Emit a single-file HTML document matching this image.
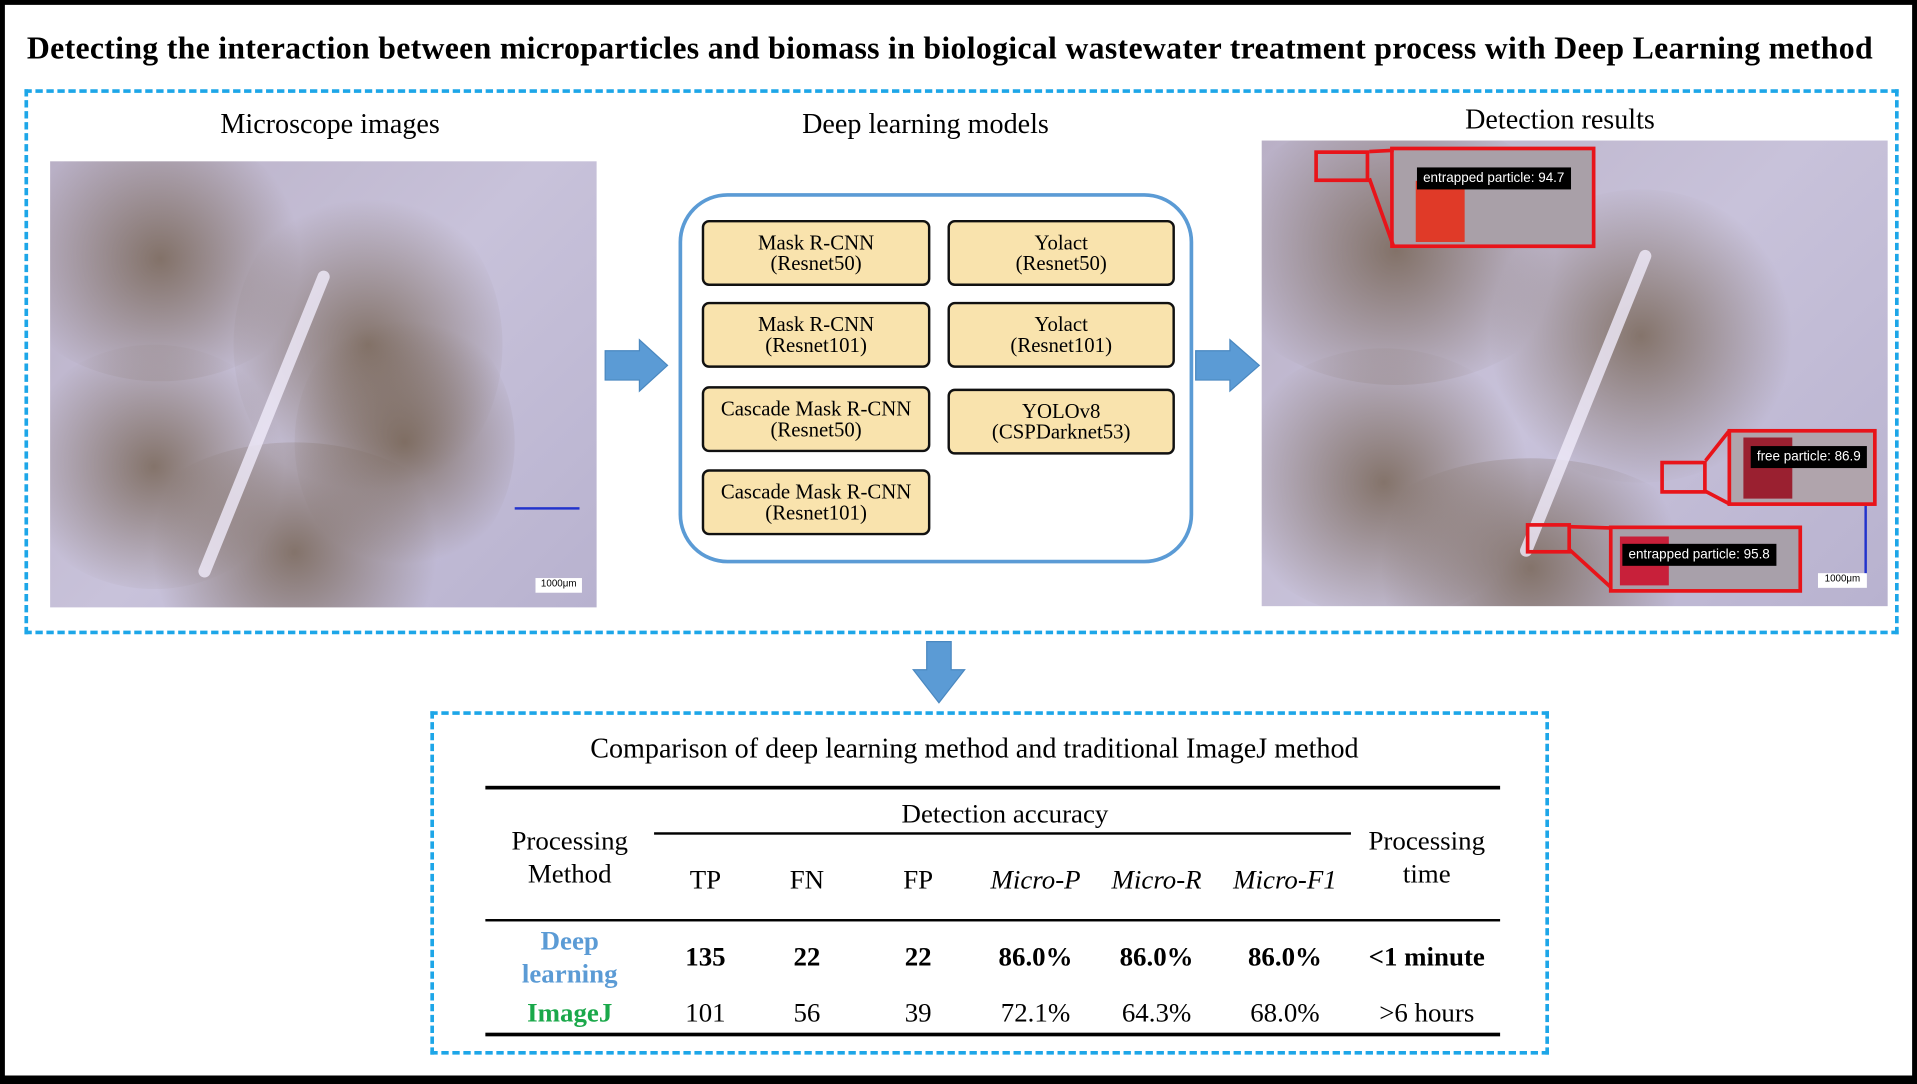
<!DOCTYPE html>
<html><head><meta charset="utf-8"><style>
*{margin:0;padding:0;box-sizing:border-box}
body{width:1917px;height:1084px;overflow:hidden;background:#fff}
#s{position:absolute;left:0;top:0;width:1568px;height:887px;transform:scale(1.22258,1.22210);transform-origin:0 0;font-family:"Liberation Serif",serif;color:#000}
.a{position:absolute}
.c{position:absolute;text-align:center;white-space:nowrap;transform:translateX(-50%)}
.mb{position:absolute;background:#f9e3ad;border:2px solid #111;border-radius:6px;text-align:center;font-size:17px;line-height:17px;padding-top:8px}
.img{background:linear-gradient(135deg,#b9b0c6,#c8c2da 50%,#b8b2cf);overflow:hidden}
.blob{position:absolute;border-radius:50%;background:radial-gradient(circle,rgba(110,90,70,.75),rgba(130,110,90,.0) 70%)}
.red{position:absolute;border:3px solid #e8141a}
.lab{position:absolute;background:#000;color:#fff;font-family:"Liberation Sans",sans-serif;font-size:11px;padding:3px 5px}
.hl{position:absolute;background:#000}
.t{position:absolute;text-align:center;transform:translateX(-50%);font-size:22px;white-space:nowrap}
</style></head><body>
<div id="s">
<div class="a" style="left:0;top:0;width:1568px;height:887px;border:4px solid #000;border-bottom:7px solid #000"></div>
<div class="a" style="left:22px;top:25px;font-size:26px;letter-spacing:0.25px;font-weight:bold;white-space:nowrap">Detecting the interaction between microparticles and biomass in biological wastewater treatment process with Deep Learning method</div>
<div class="a" style="left:20px;top:73px;width:1533px;height:446px;border:3px dashed #1da6e8"></div>
<div class="c" style="left:270px;top:89px;font-size:23px">Microscope images</div>
<div class="c" style="left:757px;top:89px;font-size:23px">Deep learning models</div>
<div class="c" style="left:1276px;top:85px;font-size:23px">Detection results</div>

<div class="a img" style="left:41px;top:132px;width:447px;height:365px">
<div class="blob" style="left:-40px;top:-20px;width:260px;height:200px"></div>
<div class="blob" style="left:150px;top:20px;width:220px;height:260px"></div>
<div class="blob" style="left:-30px;top:150px;width:230px;height:200px"></div>
<div class="blob" style="left:60px;top:230px;width:280px;height:180px"></div>
<div class="blob" style="left:200px;top:120px;width:180px;height:220px"></div>
<div class="a" style="left:170px;top:80px;width:10px;height:270px;background:rgba(240,235,250,.8);border-radius:5px;transform:rotate(22deg)"></div>
<div class="a" style="left:380px;top:283px;width:53px;height:2px;background:#2233cc"></div>
<div class="a" style="left:397px;top:341px;width:38px;height:12px;background:#fff;font-size:8px;font-family:'Liberation Sans';text-align:center">1000μm</div>
</div>

<svg class="a" style="left:490px;top:270px" width="60" height="60"><polygon points="5,17 33,17 33,8 56,29 33,50 33,41 5,41" fill="#5b9bd5" stroke="#4a88c0"/></svg>
<svg class="a" style="left:974px;top:270px" width="60" height="60"><polygon points="4,17 32,17 32,8 56,29 32,50 32,41 4,41" fill="#5b9bd5" stroke="#4a88c0"/></svg>

<div class="a" style="left:555px;top:158px;width:421px;height:303px;border:3px solid #5b9bd5;border-radius:40px"></div>
<div class="mb" style="left:574px;top:180px;width:187px;height:54px">Mask R-CNN<br>(Resnet50)</div>
<div class="mb" style="left:775px;top:180px;width:186px;height:54px">Yolact<br>(Resnet50)</div>
<div class="mb" style="left:574px;top:247px;width:187px;height:54px">Mask R-CNN<br>(Resnet101)</div>
<div class="mb" style="left:775px;top:247px;width:186px;height:54px">Yolact<br>(Resnet101)</div>
<div class="mb" style="left:574px;top:316px;width:187px;height:54px">Cascade Mask R-CNN<br>(Resnet50)</div>
<div class="mb" style="left:775px;top:318px;width:186px;height:54px">YOLOv8<br>(CSPDarknet53)</div>
<div class="mb" style="left:574px;top:384px;width:187px;height:54px">Cascade Mask R-CNN<br>(Resnet101)</div>

<div class="a img" style="left:1032px;top:115px;width:512px;height:381px">
<div class="blob" style="left:-40px;top:-20px;width:300px;height:220px"></div>
<div class="blob" style="left:180px;top:40px;width:260px;height:240px"></div>
<div class="blob" style="left:-30px;top:170px;width:260px;height:220px"></div>
<div class="blob" style="left:70px;top:260px;width:300px;height:180px"></div>
<div class="a" style="left:260px;top:80px;width:10px;height:270px;background:rgba(240,235,250,.8);border-radius:5px;transform:rotate(22deg)"></div>
<div class="a" style="left:493px;top:290px;width:2px;height:65px;background:#2233cc"></div>
<div class="a" style="left:455px;top:354px;width:40px;height:12px;background:#fff;font-size:8px;font-family:'Liberation Sans';text-align:center">1000μm</div>
</div>
<div class="red" style="left:1075px;top:123px;width:45px;height:26px"></div>
<div class="red" style="left:1137px;top:120px;width:168px;height:83px;background:#a9a0a8"><div class="a" style="left:18px;top:25px;width:40px;height:50px;background:#e03a28"></div><div class="lab" style="left:19px;top:14px">entrapped particle: 94.7</div></div>
<svg class="a" style="left:1118px;top:120px" width="25" height="90"><line x1="2" y1="4" x2="22" y2="3" stroke="#e8141a" stroke-width="3"/><line x1="2" y1="26" x2="22" y2="82" stroke="#e8141a" stroke-width="3"/></svg>
<div class="red" style="left:1358px;top:377px;width:38px;height:27px"></div>
<div class="red" style="left:1413px;top:351px;width:122px;height:63px;background:#b0a4ac"><div class="a" style="left:10px;top:4px;width:40px;height:50px;background:#9a2030"></div><div class="lab" style="left:16px;top:11px">free particle: 86.9</div></div>
<svg class="a" style="left:1394px;top:350px" width="22" height="66"><line x1="1" y1="27" x2="20" y2="3" stroke="#e8141a" stroke-width="3"/><line x1="1" y1="52" x2="20" y2="62" stroke="#e8141a" stroke-width="3"/></svg>
<div class="red" style="left:1248px;top:428px;width:37px;height:25px"></div>
<div class="red" style="left:1316px;top:430px;width:158px;height:55px;background:#a8a0aa"><div class="a" style="left:6px;top:6px;width:40px;height:40px;background:#c8203a"></div><div class="lab" style="left:8px;top:12px">entrapped particle: 95.8</div></div>
<svg class="a" style="left:1283px;top:428px" width="36" height="60"><line x1="1" y1="3" x2="34" y2="4" stroke="#e8141a" stroke-width="3"/><line x1="1" y1="22" x2="34" y2="52" stroke="#e8141a" stroke-width="3"/></svg>

<svg class="a" style="left:742px;top:522px" width="52" height="56"><polygon points="16,3 36,3 36,26 47,26 26,53 5,26 16,26" fill="#5b9bd5" stroke="#4a88c0"/></svg>

<div class="a" style="left:352px;top:582px;width:915px;height:281px;border:3px dashed #1da6e8"></div>
<div class="c" style="left:797px;top:600px;font-size:23px">Comparison of deep learning method and traditional ImageJ method</div>
<div>
<div class="hl" style="left:397px;top:643px;width:830px;height:3px"></div>
<div class="hl" style="left:535px;top:681px;width:570px;height:2px"></div>
<div class="hl" style="left:397px;top:752px;width:830px;height:2px"></div>
<div class="hl" style="left:397px;top:845px;width:830px;height:3px"></div>
<div class="t" style="left:822px;top:653px">Detection accuracy</div>
<div class="t" style="left:466px;top:674px;line-height:27px">Processing<br>Method</div>
<div class="t" style="left:1167px;top:674px;line-height:27px">Processing<br>time</div>
<div class="t" style="left:577px;top:707px">TP</div>
<div class="t" style="left:660px;top:707px">FN</div>
<div class="t" style="left:751px;top:707px">FP</div>
<div class="t" style="left:847px;top:707px;font-style:italic">Micro-P</div>
<div class="t" style="left:946px;top:707px;font-style:italic">Micro-R</div>
<div class="t" style="left:1051px;top:707px;font-style:italic">Micro-F1</div>
<div class="t" style="left:466px;top:756px;line-height:27px;color:#5b9bd5;font-weight:bold">Deep<br>learning</div>
<div class="t" style="left:577px;top:770px;font-weight:bold">135</div>
<div class="t" style="left:660px;top:770px;font-weight:bold">22</div>
<div class="t" style="left:751px;top:770px;font-weight:bold">22</div>
<div class="t" style="left:847px;top:770px;font-weight:bold">86.0%</div>
<div class="t" style="left:946px;top:770px;font-weight:bold">86.0%</div>
<div class="t" style="left:1051px;top:770px;font-weight:bold">86.0%</div>
<div class="t" style="left:1167px;top:770px;font-weight:bold">&lt;1 minute</div>
<div class="t" style="left:466px;top:816px;color:#1aa84a;font-weight:bold">ImageJ</div>
<div class="t" style="left:577px;top:816px">101</div>
<div class="t" style="left:660px;top:816px">56</div>
<div class="t" style="left:751px;top:816px">39</div>
<div class="t" style="left:847px;top:816px">72.1%</div>
<div class="t" style="left:946px;top:816px">64.3%</div>
<div class="t" style="left:1051px;top:816px">68.0%</div>
<div class="t" style="left:1167px;top:816px">&gt;6 hours</div>
</div>
</div>
</body></html>
